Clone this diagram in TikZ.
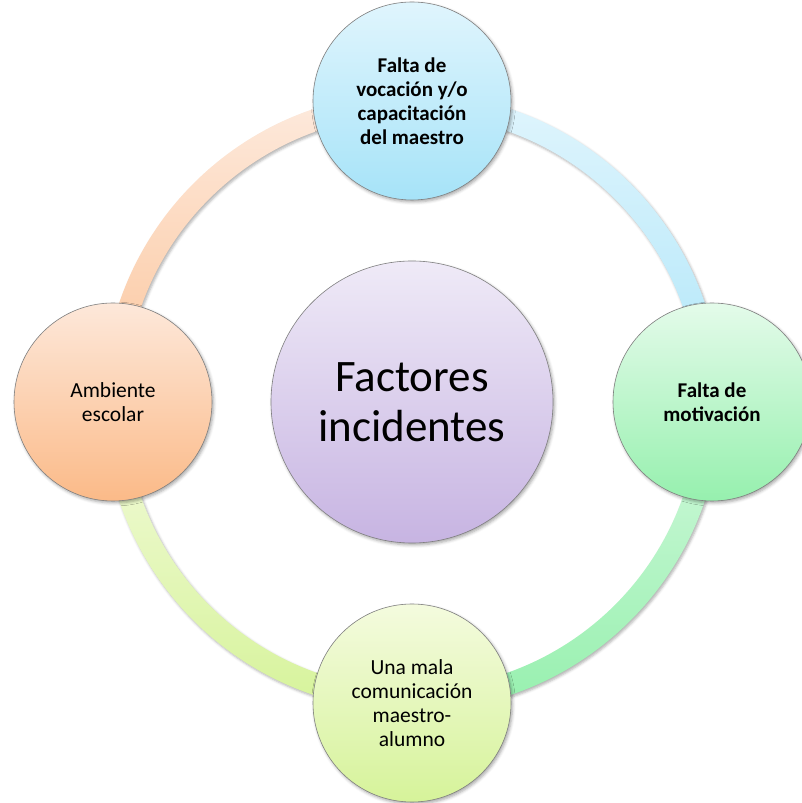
\documentclass[tikz,border=0pt]{standalone}
\usepackage{fontspec}
\setmainfont{Carlito}
\usetikzlibrary{shadows.blur}
\definecolor{tTop}{HTML}{E0F5FD}\definecolor{tBot}{HTML}{A6E3F8}
\definecolor{rTop}{HTML}{E4FBEA}\definecolor{rBot}{HTML}{96F0AE}
\definecolor{bTop}{HTML}{F4FBDE}\definecolor{bBot}{HTML}{D6F39A}
\definecolor{lTop}{HTML}{FDE8DA}\definecolor{lBot}{HTML}{FBBA88}
\definecolor{cTop}{HTML}{EFEAF7}\definecolor{cBot}{HTML}{C7B4E2}
\tikzset{
  bubble/.style={circle, draw=black!50, line width=0.6pt, minimum size=198pt, inner sep=0pt,
    align=center, text=black, font=\fontsize{21.5}{24}\selectfont,
    blur shadow={shadow xshift=1.5pt, shadow yshift=-2pt, shadow blur radius=3pt, shadow opacity=35}},
  boldbubble/.style={bubble, font=\fontsize{21}{24}\selectfont\bfseries},
  hub/.style={bubble, minimum size=282pt, font=\fontsize{45}{50}\selectfont},
  band/.style={blur shadow={shadow xshift=1.5pt, shadow yshift=-2pt, shadow blur radius=2.5pt, shadow opacity=30}}
}
\begin{document}
\begin{tikzpicture}[x=1pt,y=1pt]
\useasboundingbox (0,0) rectangle (801,803);
\coordinate (O) at (412,401);
% ring quadrants
\shade[band, top color=lTop!90!white, bottom color=lBot!85!white]
  (O) ++(180:309) arc (180:90:309) -- ++(270:22) arc (90:180:287) -- cycle;
\shade[band, top color=tTop, bottom color=tBot!90!white]
  (O) ++(90:309) arc (90:0:309) -- ++(180:22) arc (0:90:287) -- cycle;
\shade[band, top color=rTop!80!rBot, bottom color=rBot]
  (O) ++(0:309) arc (0:-90:309) -- ++(90:22) arc (-90:0:287) -- cycle;
\shade[band, top color=bTop, bottom color=bBot]
  (O) ++(-90:309) arc (-90:-180:309) -- ++(0:22) arc (-180:-90:287) -- cycle;
% nodes
\node[hub, top color=cTop, bottom color=cBot] (c) at (O) {Factores\\incidentes};
\node[boldbubble, top color=tTop, bottom color=tBot] (t) at (412,702) {Falta de\\vocación y/o\\capacitación\\del maestro};
\node[boldbubble, top color=rTop, bottom color=rBot] (r) at (712,401) {Falta de\\motivación};
\node[bubble, top color=bTop, bottom color=bBot] (b) at (412,100) {Una mala\\comunicación\\maestro-\\alumno};
\node[bubble, top color=lTop, bottom color=lBot] (l) at (113,401) {Ambiente\\escolar};
\end{tikzpicture}
\end{document}
